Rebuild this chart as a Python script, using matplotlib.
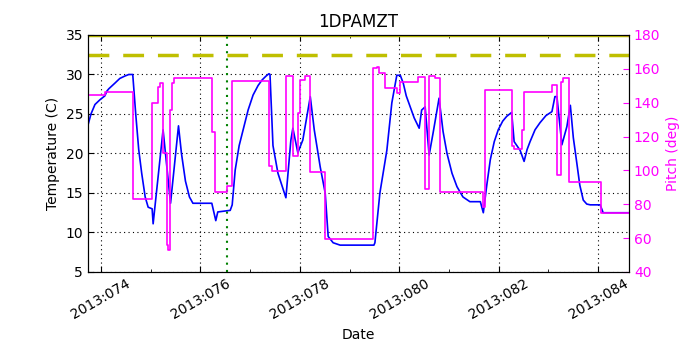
import matplotlib
matplotlib.use('Agg')
import matplotlib.pyplot as plt
from matplotlib.ticker import FuncFormatter, MultipleLocator

# day of year 2013 vs 1DPAMZT temperature (C)
temp_days = [73.74, 73.80, 73.88, 73.98, 74.08, 74.12, 74.16, 74.28, 74.38, 74.48, 74.56, 74.64,
             74.70, 74.76, 74.82, 74.89, 74.95, 75.03, 75.05, 75.25, 75.40, 75.56,
             75.62, 75.70, 75.78, 75.85, 76.23, 76.31, 76.35, 76.60, 76.64, 76.70, 76.78,
             76.86, 76.96, 77.06, 77.16, 77.24, 77.32, 77.38, 77.40, 77.46, 77.56, 77.72,
             77.82, 77.86, 77.96, 78.06, 78.21, 78.29, 78.41, 78.51, 78.57, 78.67, 78.81,
             79.49, 79.51, 79.61, 79.75, 79.85, 79.95, 80.02, 80.08, 80.14, 80.22, 80.30,
             80.40, 80.45, 80.52, 80.60, 80.68, 80.80, 80.88, 80.96, 81.06, 81.16, 81.28,
             81.42, 81.63, 81.69, 81.76, 81.83, 81.91, 81.99, 82.08, 82.16, 82.26, 82.31,
             82.43, 82.51, 82.57, 82.63, 82.73, 82.83, 82.95, 83.07, 83.13, 83.17, 83.27,
             83.37, 83.44, 83.50, 83.57, 83.63, 83.70, 83.77, 83.84, 84.04, 84.10, 84.62]
temp_vals = [23.6, 25.0, 26.2, 26.8, 27.3, 27.9, 28.2, 28.9, 29.5, 29.8, 30.0, 30.0,
             25.0, 20.5, 17.5, 14.5, 13.2, 13.0, 11.1, 23.0, 13.7, 23.5,
             20.0, 16.5, 14.5, 13.7, 13.7, 11.5, 12.6, 12.8, 13.5, 17.9, 21.0,
             23.0, 25.5, 27.4, 28.6, 29.3, 29.8, 30.1, 30.0, 21.0, 17.5, 14.4,
             21.7, 23.2, 20.1, 21.7, 27.2, 23.0, 18.3, 15.0, 9.5, 8.7, 8.4,
             8.4, 8.7, 15.0, 20.4, 26.4, 29.9, 29.9, 28.9, 27.3, 25.9, 24.5,
             23.2, 25.5, 25.9, 19.8, 22.6, 27.0, 22.8, 20.0, 17.5, 15.8, 14.5,
             13.9, 13.9, 12.5, 16.0, 19.2, 21.5, 23.0, 24.1, 24.7, 25.2, 21.5,
             20.4, 19.0, 20.5, 21.5, 23.0, 23.9, 24.8, 25.3, 27.2, 27.2, 21.1,
             23.4, 26.1, 22.0, 18.8, 16.0, 14.1, 13.6, 13.5, 13.5, 12.5, 12.5]

# pitch (deg), piecewise constant
pitch_days = [73.74, 74.08, 74.65, 75.02, 75.15, 75.19, 75.24, 75.33, 75.35, 75.39, 75.42, 75.47,
              76.23, 76.29, 76.53, 76.63, 77.38, 77.45, 77.72, 77.86, 77.96, 78.00, 78.10,
              78.21, 78.51, 79.48, 79.55, 79.59, 79.72, 79.96, 80.01, 80.38, 80.52, 80.60,
              80.72, 80.81, 81.69, 81.73, 82.26, 82.31, 82.46, 82.51, 83.07, 83.17, 83.25,
              83.30, 83.42, 84.05, 84.62]
pitch_vals = [144.6, 146.5, 83.1, 140.0, 149.5, 151.5, 110.0, 56.0, 53.0, 135.7, 151.5, 154.8,
              122.9, 87.0, 91.0, 152.8, 102.6, 99.8, 156.0, 108.5, 133.7, 153.4, 155.8,
              99.3, 59.3, 160.3, 161.3, 157.7, 148.5, 145.6, 152.0, 155.4, 88.9, 155.8,
              154.4, 87.4, 78.6, 147.5, 114.4, 112.5, 123.9, 146.5, 150.5, 97.3, 152.4,
              154.8, 93.3, 75.0, 75.0]

planning_limit = 32.5
yellow_limit = 35.0
marker_day = 76.535

plt.rcParams['xtick.direction'] = 'in'
plt.rcParams['ytick.direction'] = 'in'
plt.rcParams['font.size'] = 10

fig = plt.figure(figsize=(7, 3.5), dpi=100)
ax = fig.add_axes([0.1257, 0.2229, 0.7729, 0.6771])
ax.plot(temp_days, temp_vals, color='b', lw=1.2)
ax.axhline(planning_limit, color=(0.75, 0.75, 0), ls='--', dashes=(6, 4), lw=2.5)
ax.axhline(yellow_limit, color=(0.75, 0.75, 0), lw=2.5)
ax.axvline(marker_day, color='g', ls=':', dashes=(1, 2.5), lw=1.5)
ax.set_xlim(73.74, 84.62)
ax.set_ylim(5, 35)
ax.xaxis.set_major_locator(MultipleLocator(2))
ax.xaxis.set_minor_locator(MultipleLocator(1))
ax.xaxis.set_major_formatter(FuncFormatter(lambda v, p: '2013:%03d' % int(round(v))))
ax.grid(True, color='k', ls=':', dashes=(1, 3), lw=0.8)
ax.tick_params(which='both', top=True)
ax.tick_params(which='major', length=4)
ax.tick_params(which='minor', length=2)
ax.set_ylabel('Temperature (C)')
ax.set_xlabel('Date')
ax.set_title('1DPAMZT', fontsize=12)
for lbl in ax.get_xticklabels():
    lbl.set_rotation(30)
    lbl.set_ha('center')

ax2 = ax.twinx()
ax2.plot(pitch_days, pitch_vals, color='#ff00ff', lw=1.2, drawstyle='steps-post')
ax2.set_ylim(40, 180)
ax2.set_ylabel('Pitch (deg)', color='#ff00ff')
ax2.tick_params(axis='y', colors='#ff00ff', length=4)
for s in ax2.spines.values():
    s.set_color('k')
ax.set_xlim(73.74, 84.62)

fig.savefig('out.png', dpi=100)
